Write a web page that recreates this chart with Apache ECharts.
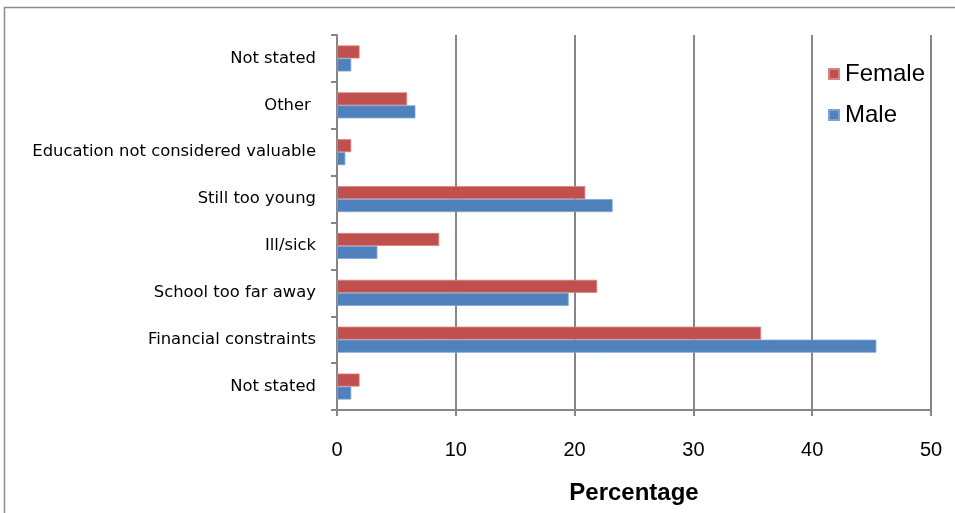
<!DOCTYPE html>
<html>
<head>
<meta charset="utf-8">
<script src="https://cdn.jsdelivr.net/npm/echarts@6/dist/echarts.min.js"></script>
<style>
  html, body { margin: 0; padding: 0; background: #fff; }
  #chart { width: 955px; height: 513px; }
</style>
</head>
<body>
<div id="chart"></div>
<script>
// Reasons for not attending school, by sex (bottom to top)
const categories = [
  'Not stated',
  'Financial constraints',
  'School too far away',
  'Ill/sick',
  'Still too young',
  'Education not considered valuable',
  'Other ',
  'Not stated'
];
const femaleValues = [1.9, 35.7, 21.9, 8.6, 20.9, 1.2, 5.9, 1.9];
const maleValues   = [1.2, 45.4, 19.5, 3.4, 23.2, 0.7, 6.6, 1.2];
const xTicks = { min: 0, max: 50, interval: 10 };

const FONT = '"Liberation Sans", Arial, sans-serif';
const WIDE_FONT = '"DejaVu Sans", "Liberation Sans", sans-serif';
const GRID_GRAY = '#868686';

const chart = echarts.init(document.getElementById('chart'), null, { renderer: 'canvas' });

chart.setOption({
  animation: false,
  backgroundColor: '#ffffff',
  textStyle: { fontFamily: FONT, color: '#000' },
  graphic: [{
    type: 'rect',
    shape: { x: 4.5, y: 7.5, width: 1000, height: 1000 },
    style: { fill: 'none', stroke: '#8c8c8c', lineWidth: 1.5 },
    silent: true
  }],
  grid: { left: 337, right: 24, top: 35, bottom: 103, containLabel: false },
  legend: {
    orient: 'vertical',
    left: 823,
    top: 57,
    itemWidth: 10,
    itemHeight: 10,
    itemGap: 17,
    icon: 'rect',
    data: ['Female', 'Male'],
    textStyle: { fontFamily: FONT, fontSize: 24, color: '#000', padding: [0, 0, 0, 1] }
  },
  xAxis: {
    type: 'value',
    min: xTicks.min,
    max: xTicks.max,
    interval: xTicks.interval,
    name: 'Percentage',
    nameLocation: 'middle',
    nameGap: 71,
    nameTextStyle: { fontFamily: FONT, fontSize: 24, fontWeight: 'bold', color: '#000' },
    axisLine: { show: true, lineStyle: { color: GRID_GRAY, width: 2 } },
    axisTick: { show: true, length: 6, lineStyle: { color: GRID_GRAY, width: 2 } },
    axisLabel: { fontFamily: FONT, fontSize: 20, color: '#000', margin: 30 },
    splitLine: { show: true, lineStyle: { color: GRID_GRAY, width: 2 } }
  },
  yAxis: {
    type: 'category',
    data: categories,
    boundaryGap: true,
    axisLine: { show: true, lineStyle: { color: GRID_GRAY, width: 2 } },
    axisTick: { show: true, length: 6, lineStyle: { color: GRID_GRAY, width: 2 } },
    axisLabel: { fontFamily: WIDE_FONT, fontSize: 16.4, color: '#000', margin: 21, interval: 0 },
    splitLine: { show: false }
  },
  series: [
    {
      name: 'Female',
      type: 'bar',
      data: femaleValues,
      barWidth: 13,
      barGap: '0%',
      itemStyle: { color: '#C0504D', borderColor: '#D8837F', borderWidth: 0.8 }
    },
    {
      name: 'Male',
      type: 'bar',
      data: maleValues,
      barWidth: 13,
      barGap: '0%',
      itemStyle: { color: '#4F81BD', borderColor: '#7EA3D2', borderWidth: 0.8 }
    }
  ]
});
</script>
</body>
</html>
